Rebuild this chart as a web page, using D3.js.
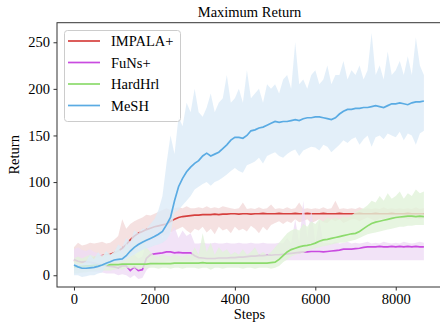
<!DOCTYPE html>
<html>
<head>
<meta charset="utf-8">
<script src="https://cdn.jsdelivr.net/npm/d3@7"></script>
<style>
  body { margin: 0; background: #fff; }
  text { font-family: "Liberation Serif", "DejaVu Serif", serif; fill: #000; }
</style>
</head>
<body>
<div id="chart"></div>
<script>
// sample steps (every 100 steps, 0..8700)
const steps = d3.range(0, 8800, 100);

const seriesNames = ["IMPALA+", "FuNs+", "HardHrl", "MeSH"];

const impalaMean = [16, 15, 14.5, 15.5, 17, 19, 20, 21, 22, 22.5,
  24, 26, 29, 33, 38, 42, 45, 47, 49, 50.5,
  52, 53, 54, 55, 58, 60, 62, 63, 63.5, 64,
  64.5, 64.5, 65, 65, 65, 65.5, 65, 65.5, 65.5, 66,
  66, 65.5, 66, 66, 65.5, 66, 66, 66.5, 66, 66,
  66, 66.5, 66, 66, 66, 66.5, 66, 66, 66.5, 66,
  66, 66, 66.5, 66, 66, 66, 66.5, 66, 66, 66,
  66, 66.5, 66, 66, 66, 66.5, 66, 66, 66, 66.5,
  66, 66, 66, 66.5, 66, 66, 66, 66];
const impalaLo = [5, 4, 3, 5, 6, 8, 8, 10, 10, 12,
  12, 15, 18, 20, 22, 25, 30, 32, 35, 38,
  38, 40, 42, 44, 46, 48, 50, 52, 48, 45,
  50, 48, 52, 46, 50, 44, 52, 48, 50, 45,
  52, 48, 50, 47, 53, 50, 45, 52, 48, 54,
  56, 58, 55, 58, 56, 60, 57, 58, 60, 56,
  58, 60, 57, 56, 60, 58, 60, 56, 58, 60,
  60, 58, 60, 62, 60, 58, 61, 60, 62, 60,
  61, 60, 62, 60, 61, 62, 60, 61];
const impalaHi = [30, 35, 32, 33, 35, 34, 35, 36, 34, 35,
  38, 42, 60, 50, 55, 58, 60, 62, 65, 64,
  66, 68, 70, 72, 70, 72, 73, 72, 74, 72,
  72, 73, 72, 74, 72, 73, 72, 74, 73, 72,
  71, 72, 78, 71, 72, 71, 73, 71, 72, 76,
  71, 72, 71, 73, 71, 72, 78, 71, 72, 71,
  72, 71, 73, 71, 72, 80, 71, 72, 71, 72,
  71, 73, 71, 72, 71, 72, 71, 73, 71, 72,
  71, 72, 71, 72, 71, 73, 71, 72];

const funsMean = [17, 15, 14, 14.5, 14, 13, 12, 11, 10, 9.5,
  9, 8, 10, 10, 5, 9, 5, 6, 18, 22,
  23, 23.5, 24, 25, 25, 24, 24.5, 24, 24, 24,
  21, 19, 18.5, 18, 18, 18, 18.5, 18.5, 18.5, 19,
  19, 19.5, 19.5, 20, 20.5, 20.5, 21, 21, 21.5, 21.5,
  22, 22, 22.5, 23, 23.5, 24, 24.5, 25, 25, 25.5,
  25.5, 25.5, 25, 25.5, 26, 26.5, 27, 28, 28, 28,
  28.5, 29, 30, 30.5, 30.5, 30.5, 31, 30.5, 30.5, 31,
  30.5, 31, 30.5, 31, 30.5, 31, 30.5, 30.5];
const funsLo = [8, 6, 5, 5, 4, 4, 3, 3, 2, 2,
  2, 0, 1, 0, -3, 0, -4, -3, 5, 10,
  12, 14, 14, 15, 15, 15, 15, 15, 15, 15,
  16, 16, 16, 16, 16, 16, 16, 16, 16, 16,
  16, 16, 16, 16, 16, 16, 16, 16, 16, 16,
  16, 16, 16, 16, 16, 16, 16, 16, 16, 16,
  16, 16, 16, 16, 16, 16, 16, 16, 16, 16,
  16, 16, 16, 16, 16, 16, 16, 16, 16, 16,
  16, 16, 16, 16, 16, 16, 16, 16];
const funsHi = [28, 30, 27, 26, 28, 25, 24, 22, 22, 20,
  20, 22, 18, 25, 20, 22, 18, 20, 35, 40,
  45, 50, 40, 55, 45, 52, 40, 48, 42, 45,
  34, 34, 35, 34, 34, 35, 34, 34, 35, 34,
  34, 35, 34, 34, 35, 34, 34, 35, 34, 34,
  34, 35, 34, 40, 34, 60, 34, 80, 40, 70,
  35, 60, 34, 35, 34, 36, 34, 35, 36, 34,
  35, 34, 35, 36, 34, 35, 34, 36, 35, 34,
  35, 34, 36, 35, 34, 35, 36, 35];

const hardMean = [9, 9, 9.5, 10, 10, 10.5, 10.5, 11, 11, 11.5,
  11.5, 11.5, 12, 12, 12, 12, 12, 12, 12, 12.5,
  12.5, 12.5, 12.5, 12.5, 12.5, 13, 13, 13, 13, 13,
  13, 13, 13.5, 13, 13, 13, 13, 13, 13, 13,
  13, 13, 13, 13, 13, 13, 13, 13, 13, 13.5,
  14, 17, 21, 25, 27.5, 29, 30.5, 31.5, 32, 33,
  34.5, 36.5, 38, 38.5, 39.5, 40.5, 41.5, 42.5, 43.5, 44.5,
  45, 47, 50, 53, 55.5, 57, 58, 59, 60, 61,
  62, 62.5, 63, 63.5, 63.5, 63, 63.5, 63];
const hardLo = [2, 2, 3, 3, 4, 4, 5, 5, 5, 5,
  6, 7, 6, 8, 7, 8, 6, 8, 7, 8,
  8, 7, 8, 8, 7, 8, 8, 7, 8, 8,
  8, 7, 8, 8, 6, 8, 8, 7, 8, 8,
  8, 8, 7, 8, 8, 7, 8, 8, 8, 7,
  8, 10, 14, 17, 20, 22, 23, 24, 26, 28,
  29, 30, 31, 32, 33, 34, 35, 35, 36, 37,
  38, 40, 42, 44, 45, 46, 47, 48, 49, 50,
  51, 52, 52, 53, 53, 54, 54, 54];
const hardHi = [18, 20, 18, 20, 22, 20, 22, 20, 25, 22,
  25, 30, 22, 35, 25, 40, 28, 45, 30, 25,
  21, 20, 22, 21, 20, 22, 21, 20, 22, 21,
  30, 22, 45, 25, 35, 22, 30, 25, 28, 22,
  25, 22, 28, 22, 25, 30, 22, 25, 22, 25,
  30, 35, 40, 45, 48, 50, 48, 55, 52, 58,
  55, 60, 58, 62, 60, 62, 60, 63, 62, 64,
  68, 70, 72, 75, 80, 78, 85, 80, 88, 82,
  85, 90, 82, 88, 85, 92, 88, 90];

const meshMean = [11, 9, 7.5, 7.5, 8, 8.5, 9.5, 11, 12.8, 14.5,
  16.4, 17, 17.5, 21, 26, 30, 33, 35.5, 37.5, 39.5,
  41.5, 44, 47, 54, 62, 80, 95, 104, 111, 116,
  120, 123, 128, 131, 128, 130, 132, 136, 140, 145,
  148, 148, 147, 150, 155, 156, 158, 159, 161, 163,
  165, 164, 165, 165, 166, 167, 166, 168, 169, 169,
  170, 170, 169, 168, 167, 169, 173, 176, 178, 178,
  179, 179, 180, 180, 181, 182, 181, 180, 182, 184,
  184, 185, 184, 183, 185, 186, 186, 187];
const meshLo = [0, 0, -2, -1, 0, 0, 2, 3, 10, 13,
  14, 14.5, 15, 17, 20, 22, 25, 27, 29, 30,
  32, 33, 35, 38, 45, 67, 70, 75, 80, 85,
  92, 95, 98, 100, 96, 100, 102, 105, 108, 112,
  115, 112, 110, 118, 120, 122, 126, 120, 128, 130,
  132, 128, 126, 130, 133, 135, 128, 134, 136, 138,
  137, 134, 140, 138, 132, 136, 140, 145, 142, 146,
  148, 140, 146, 150, 138, 148, 150, 146, 152, 150,
  148, 154, 145, 152, 150, 140, 152, 155];
const meshHi = [13, 12, 12, 15, 22, 17, 25, 19, 26, 22,
  25, 33, 30, 40, 36, 48, 45, 50, 50, 55,
  60, 70, 85, 120, 150, 130, 170, 160, 185, 175,
  200, 175, 170, 180, 195, 175, 185, 190, 215, 185,
  190, 200, 185, 220, 190, 195, 200, 185, 205, 200,
  205, 195, 210, 215, 200, 250, 205, 210, 200, 215,
  220, 205, 210, 225, 205, 215, 215, 230, 210, 220,
  215, 225, 210, 220, 260, 215, 225, 210, 240, 215,
  220, 230, 215, 235, 215, 255, 225, 215];

const xTicks = [0, 2000, 4000, 6000, 8000];
const yTicks = [0, 50, 100, 150, 200, 250];

const lineColors = ["#d6403e", "#c94be0", "#8cdb6c", "#5aabe3"];
const bandColors = ["#f3d9d9", "#efdcf5", "#e1f3da", "#dcebf8"];

const series = [
  { mean: impalaMean, lo: impalaLo, hi: impalaHi },
  { mean: funsMean, lo: funsLo, hi: funsHi },
  { mean: hardMean, lo: hardLo, hi: hardHi },
  { mean: meshMean, lo: meshLo, hi: meshHi }
];

const W = 440, H = 327;
const plotL = 57, plotR = 442, plotT = 22.7, plotB = 287;

const svg = d3.select("#chart").append("svg")
  .attr("width", W).attr("height", H);

const x = d3.scaleLinear().domain([-422, 9150]).range([plotL, plotR]);
const y = d3.scaleLinear().domain([-12.6, 271]).range([plotB, plotT]);

svg.append("clipPath").attr("id", "clip")
  .append("rect").attr("x", plotL).attr("y", plotT)
  .attr("width", plotR - plotL).attr("height", plotB - plotT);

const plot = svg.append("g").attr("clip-path", "url(#clip)");

const area = d3.area()
  .x((d, i) => x(steps[i]))
  .y0(d => y(d[0]))
  .y1(d => y(d[1]));
const line = d3.line()
  .x((d, i) => x(steps[i]))
  .y(d => y(d));

// each band goes under its own line but over earlier lines
series.forEach((s, k) => {
  plot.append("path")
    .datum(s.lo.map((v, i) => [v, s.hi[i]]))
    .attr("d", area)
    .attr("fill", bandColors[k])
    .attr("fill-opacity", 0.8);
  plot.append("path")
    .datum(s.mean)
    .attr("d", line)
    .attr("fill", "none")
    .attr("stroke", lineColors[k])
    .attr("stroke-width", 1.7);
});

// axes
const xAxis = svg.append("g")
  .attr("transform", "translate(0," + plotB + ")")
  .call(d3.axisBottom(x).tickValues(xTicks).tickSize(3.5).tickPadding(3.5).tickFormat(d3.format("d")));
const yAxis = svg.append("g")
  .attr("transform", "translate(" + plotL + ",0)")
  .call(d3.axisLeft(y).tickValues(yTicks).tickSize(3.5).tickPadding(3.5));

[xAxis, yAxis].forEach(a => {
  a.select(".domain").remove();
  a.selectAll("line").attr("stroke", "#333");
  a.selectAll("text").style("font-family", "Liberation Serif").style("font-size", "14.5px").attr("fill", "#000");
});

// spines (right one falls outside the picture)
svg.append("rect")
  .attr("x", plotL).attr("y", plotT)
  .attr("width", plotR - plotL).attr("height", plotB - plotT)
  .attr("fill", "none").attr("stroke", "#333").attr("stroke-width", 1);

svg.append("text")
  .attr("x", (plotL + plotR) / 2).attr("y", 16.5)
  .attr("text-anchor", "middle")
  .style("font-size", "14.5px")
  .text("Maximum Return");

svg.append("text")
  .attr("x", (plotL + plotR) / 2).attr("y", 319)
  .attr("text-anchor", "middle")
  .style("font-size", "14.5px")
  .text("Steps");

svg.append("text")
  .attr("transform", "translate(18.5," + ((plotT + plotB) / 2) + ") rotate(-90)")
  .attr("text-anchor", "middle")
  .style("font-size", "14.5px")
  .text("Return");

// legend
const legend = svg.append("g");
legend.append("rect")
  .attr("x", 64.5).attr("y", 30.5)
  .attr("width", 116).attr("height", 91)
  .attr("rx", 3)
  .attr("fill", "#fff").attr("fill-opacity", 0.8)
  .attr("stroke", "#ccc");

const rows = legend.selectAll(".row")
  .data(seriesNames)
  .enter().append("g")
  .attr("class", "row")
  .attr("transform", (d, i) => "translate(0," + (41 + i * 21.5) + ")");

rows.append("line")
  .attr("x1", 68).attr("x2", 100)
  .attr("stroke", (d, i) => lineColors[i])
  .attr("stroke-width", 1.7);

rows.append("text")
  .attr("x", 111).attr("y", 5)
  .style("font-size", "14.5px")
  .text(d => d);
</script>
</body>
</html>
